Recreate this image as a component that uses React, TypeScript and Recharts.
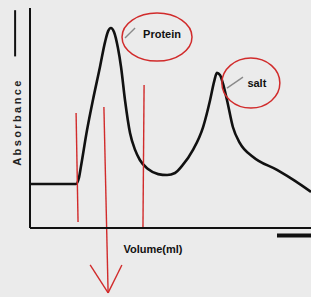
import { ComposedChart, Line, XAxis, YAxis, ReferenceLine, ReferenceDot } from 'recharts';

// elution profile (volume 0-100, absorbance 0-100, schematic units)
const volume = [0, 10.7, 16.4, 17.4, 18.1, 20.3, 22.4, 24.9, 26.7, 27.8, 28.8, 29.9, 31.3, 32.4, 33.8, 35.6, 37.4, 39.1, 42.0, 45.6, 48.8, 51.6, 54.1, 58.0, 61.6, 64.1, 65.5, 66.5, 67.6, 68.7, 70.1, 72.2, 74.7, 79.4, 87.9, 94.3, 100];
const absorbance = [20, 20, 20, 22.7, 27.7, 44.5, 58.2, 73.2, 84.5, 89.5, 90.9, 89.1, 81.8, 73.2, 58.2, 43.2, 35.5, 30.9, 26.8, 24.5, 24.1, 25, 28.2, 35.5, 45.9, 58.2, 66.4, 70.5, 69.5, 65.5, 58.2, 45.9, 38.6, 32.3, 26.4, 21.4, 16.4];

// hand-drawn red marks: [x1, y1, x2, y2]
const cutLines = [
  [16.4, 52.3, 17.1, 2.7],
  [40.6, 65, 40.2, 0.5],
];
const downArrow = [
  [26.3, 55, 27.8, -29.5],
  [21.4, -16.8, 27.8, -29.5],
  [32.7, -16.8, 27.8, -29.5],
];

// peak labels
const peakNames = ['Protein', 'salt'];
const circleAt = [[45.2, 86.8], [78.6, 65.9]];
const pointers = [
  [37.4, 90.9, 33.8, 86.4],
  [75.8, 68.6, 70.1, 63.6],
];
const circleSize = [[35, 24], [29, 25]];

const data = volume.map((v, i) => ({ v, a: absorbance[i] }));

const seg = (s: number[]) => [{ x: s[0], y: s[1] }, { x: s[2], y: s[3] }];
const font = '"Liberation Sans", Arial, sans-serif';

export default function App() {
  return (
    <div style={{ position: 'fixed', left: 0, top: 0, width: 311, height: 297, background: '#ebebeb' }}>
      <ComposedChart width={311} height={297} data={data} margin={{ top: 8, right: 0, left: 0, bottom: 0 }}>
        <XAxis
          dataKey="v"
          type="number"
          domain={[0, 100]}
          tick={false}
          tickLine={false}
          height={69}
          axisLine={{ stroke: '#111', strokeWidth: 2 }}
          label={({ viewBox }: any) => (
            <text x={viewBox.x + 123} y={viewBox.y + 21} textAnchor="middle" dominantBaseline="central"
              fontFamily={font} fontWeight="bold" fontSize={11} fill="#111">Volume(ml)</text>
          )}
        />
        <YAxis
          type="number"
          domain={[0, 100]}
          tick={false}
          tickLine={false}
          width={30}
          allowDataOverflow
          axisLine={{ stroke: '#111', strokeWidth: 2 }}
          label={({ viewBox }: any) => {
            const x = viewBox.x + 17;
            const y = viewBox.y + viewBox.height / 2 + 4;
            return (
              <text x={x} y={y} transform={`rotate(-90 ${x} ${y})`} textAnchor="middle" dominantBaseline="central"
                fontFamily={font} fontWeight="bold" fontSize={11} letterSpacing={2.4} fill="#222">Absorbance</text>
            );
          }}
        />
        <Line dataKey="a" type="monotone" stroke="#111" strokeWidth={2.6} dot={false} isAnimationActive={false} />

        {/* axis direction arrows */}
        <ReferenceLine segment={seg([-5.3, 99, -5.3, 78])} stroke="#111" strokeWidth={2} ifOverflow="visible" />
        <ReferenceLine segment={seg([87.9, -3.4, 100, -3.4])} stroke="#111" strokeWidth={4} ifOverflow="visible" />

        {cutLines.map((s, i) => (
          <ReferenceLine key={'c' + i} segment={seg(s)} stroke="#d12b2b" strokeWidth={1.4} ifOverflow="visible" />
        ))}
        {downArrow.map((s, i) => (
          <ReferenceLine key={'d' + i} segment={seg(s)} stroke="#d12b2b" strokeWidth={1.4} ifOverflow="visible" />
        ))}
        {pointers.map((s, i) => (
          <ReferenceLine key={'p' + i} segment={seg(s)} stroke="#8a8a8a" strokeWidth={1.4} ifOverflow="visible" />
        ))}
        {peakNames.map((name, i) => (
          <ReferenceDot
            key={name}
            x={circleAt[i][0]}
            y={circleAt[i][1]}
            ifOverflow="visible"
            shape={(p: any) => (
              <g>
                <ellipse cx={p.cx} cy={p.cy} rx={circleSize[i][0]} ry={circleSize[i][1]} fill="none" stroke="#d12b2b" strokeWidth={1.5} />
                <text x={p.cx + (i === 0 ? 5 : 6)} y={p.cy - (i === 0 ? 3 : 0)} textAnchor="middle" dominantBaseline="central"
                  fontFamily={font} fontWeight="bold" fontSize={11} fill="#111">{name}</text>
              </g>
            )}
          />
        ))}
      </ComposedChart>
    </div>
  );
}
